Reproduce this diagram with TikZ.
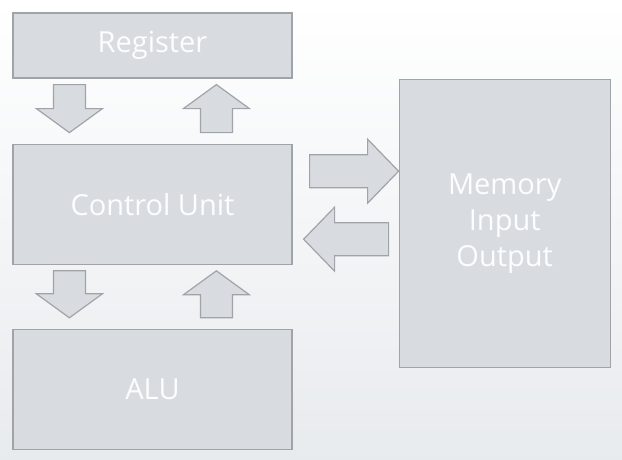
\documentclass[tikz,border=0pt]{standalone}
\usepackage{fontspec}
\setmainfont{Open Sans}
\usepackage{tikz}
\usetikzlibrary{positioning,calc}
\definecolor{boxfill}{RGB}{216,220,224}
\definecolor{boxline}{RGB}{160,164,168}
\definecolor{boxtext}{RGB}{252,253,254}
\definecolor{bgbottom}{RGB}{232,235,238}

\begin{document}
\begin{tikzpicture}[
    x=1pt, y=-1pt,
    every node/.style={font=\fontsize{29}{36}\selectfont},
    unitbox/.style={rectangle, draw=boxline, fill=boxfill, line width=1.2pt, text=boxtext, align=center, inner sep=0pt, minimum width=279pt},
    membox/.style={rectangle, draw=boxline, fill=boxfill, line width=1.2pt, text=boxtext, align=center, inner sep=0pt, minimum width=211pt, minimum height=288pt},
    blockarrow/.style n args={3}{draw=boxline, fill=boxfill, line width=1.2pt, line join=miter,
        to path={
            ($(\tikztostart)!#1!90:(\tikztotarget)$)
            -- ($($(\tikztotarget)!#3!(\tikztostart)$)!#1!90:(\tikztotarget)$)
            -- ($($(\tikztotarget)!#3!(\tikztostart)$)!#2!90:(\tikztotarget)$)
            -- (\tikztotarget)
            -- ($($(\tikztotarget)!#3!(\tikztostart)$)!#2!-90:(\tikztotarget)$)
            -- ($($(\tikztotarget)!#3!(\tikztostart)$)!#1!-90:(\tikztotarget)$)
            -- ($(\tikztostart)!#1!-90:(\tikztotarget)$)
            -- cycle}},
    vertarrow/.style={blockarrow={16pt}{33pt}{24pt}},
    horzarrow/.style={blockarrow={16.5pt}{32pt}{31pt}}
]

    \shade[top color=white, bottom color=bgbottom] (0,0) rectangle (622,459);
    \useasboundingbox (0,0) rectangle (622,459);

    \node (reg) [unitbox, minimum height=65pt] at (152.5,45.5) {Register};
    \node (cu) [unitbox, minimum height=120pt, below=65pt of reg] {Control Unit};
    \node (alu) [unitbox, minimum height=120pt, below=64pt of cu] {ALU};
    \node (mem) [membox, right=106pt of cu, yshift=-19pt] {Memory\\Input\\Output};

    \draw[vertarrow] ([xshift=57pt, yshift=-6pt]reg.south west) to ([xshift=57pt, yshift=11pt]cu.north west);
    \draw[vertarrow] ([xshift=204pt, yshift=11pt]cu.north west) to ([xshift=204pt, yshift=-6pt]reg.south west);
    \draw[vertarrow] ([xshift=57pt, yshift=-6pt]cu.south west) to ([xshift=57pt, yshift=11pt]alu.north west);
    \draw[vertarrow] ([xshift=204pt, yshift=11pt]alu.north west) to ([xshift=204pt, yshift=-6pt]cu.south west);
    \draw[horzarrow] ([xshift=17pt, yshift=33pt]cu.east) to ([yshift=52pt]mem.west);
    \draw[horzarrow] ([xshift=-10pt, yshift=-16pt]mem.west) to ([xshift=11pt, yshift=-35pt]cu.east);

\end{tikzpicture}
\end{document}
